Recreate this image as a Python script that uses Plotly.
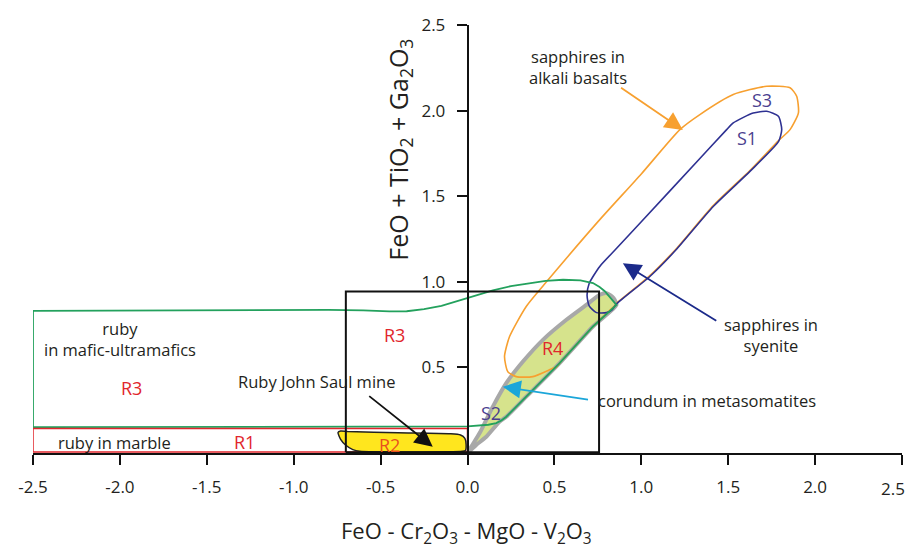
import plotly.graph_objects as go

# ---- axis ticks ----
x_tick_vals = [-2.5, -2.0, -1.5, -1.0, -0.5, 0.0, 0.5, 1.0, 1.5, 2.0, 2.5]
x_tick_text = ["-2.5", "-2.0", "-1.5", "-1.0", "-0.5", "0.0", "0.5", "1.0", "1.5", "2.0", "2.5"]
y_tick_vals = [0.5, 1.0, 1.5, 2.0, 2.5]
y_tick_text = ["0.5", "1.0", "1.5", "2.0", "2.5"]

# ---- field boundaries (data units) ----
r1_x = [-2.5, 0.0, 0.0, -2.5, -2.5]
r1_y = [0.006, 0.006, 0.143, 0.143, 0.006]

r3_x = [-2.5, -1.5, -0.8, -0.6, -0.45, -0.35, -0.25, -0.15, -0.05, 0.05, 0.146, 0.25, 0.338, 0.45, 0.55,
        0.65, 0.722, 0.76, 0.79, 0.82, 0.857, 0.722, 0.53, 0.338, 0.223, 0.195, 0.165, 0.12, 0.05, 0.0,
        -2.5, -2.5]
r3_y = [0.83, 0.834, 0.836, 0.833, 0.827, 0.828, 0.84, 0.86, 0.89, 0.92, 0.95, 0.975, 0.99, 1.005, 1.012,
        1.008, 0.993, 0.97, 0.945, 0.91, 0.865, 0.739, 0.525, 0.329, 0.212, 0.19, 0.175, 0.165, 0.157, 0.155,
        0.151, 0.83]

r4_x = [0.0, 0.03, 0.069, 0.146, 0.223, 0.319, 0.434, 0.569, 0.684, 0.761, 0.8, 0.84, 0.857,
        0.722, 0.53, 0.338, 0.223, 0.184, 0.108, 0.05, 0.0]
r4_y = [0.0, 0.05, 0.115, 0.271, 0.408, 0.534, 0.661, 0.778, 0.865, 0.924, 0.934, 0.905, 0.865,
        0.739, 0.525, 0.329, 0.212, 0.183, 0.095, 0.047, 0.0]

r2_x = [-0.745, -0.73, -0.69, -0.4, -0.1, -0.04, -0.015, -0.008, -0.012, -0.03, -0.62, -0.66, -0.70, -0.73, -0.745]
r2_y = [0.12, 0.128, 0.125, 0.118, 0.112, 0.105, 0.085, 0.05, 0.015, 0.01, 0.01, 0.02, 0.045, 0.08, 0.12]

s3_x = [0.857, 0.722, 0.53, 0.511, 0.492, 0.376, 0.28, 0.232, 0.213, 0.242, 0.338, 0.463, 0.761, 1.0, 1.222,
        1.337, 1.529, 1.722, 1.856, 1.894, 1.904, 1.856, 1.79, 1.625, 1.414, 1.2, 1.049, 0.857]
s3_y = [0.87, 0.739, 0.525, 0.501, 0.495, 0.446, 0.446, 0.475, 0.563, 0.68, 0.856, 1.01, 1.363, 1.63, 1.889,
        1.977, 2.094, 2.142, 2.133, 2.084, 1.987, 1.889, 1.825, 1.65, 1.445, 1.192, 1.036, 0.875]

s1_x = [0.857, 0.83, 0.8, 0.742, 0.7, 0.688, 0.7, 0.761, 0.85, 1.0, 1.337, 1.491, 1.529, 1.644, 1.722,
        1.789, 1.808, 1.79, 1.625, 1.414, 1.2, 1.049, 0.857]
s1_y = [0.87, 0.835, 0.82, 0.82, 0.86, 0.92, 0.99, 1.09, 1.187, 1.351, 1.72, 1.889, 1.928, 1.986, 1.996,
        1.967, 1.889, 1.82, 1.645, 1.44, 1.187, 1.031, 0.87]

box_x = [-0.70, 0.757, 0.757, -0.70, -0.70]
box_y = [0.004, 0.004, 0.943, 0.943, 0.004]

FONT = "Open Sans"
GREEN = "#23a15d"
RED = "#e1262d"
ORANGE = "#f7a030"
NAVY = "#2e3192"
GRAY = "#a8a8a8"
TXT = "#231f20"

fig = go.Figure()


def add_path(x, y, color, width, smooth=True, fill=None, fillcolor=None):
    line = dict(color=color, width=width)
    if smooth:
        line.update(shape="spline", smoothing=0.6)
    fig.add_trace(go.Scatter(x=x, y=y, mode="lines", line=line, fill=fill, fillcolor=fillcolor,
                             hoverinfo="skip", showlegend=False))


add_path(r4_x, r4_y, GRAY, 4, fill="toself", fillcolor="#d6e38c")
add_path(s3_x, s3_y, ORANGE, 1.6)
add_path(s1_x, s1_y, NAVY, 1.6)
add_path(r3_x, r3_y, GREEN, 1.8, smooth=False)
add_path(r1_x, r1_y, RED, 1.5, smooth=False)
add_path(r2_x, r2_y, "#222222", 1.5, fill="toself", fillcolor="#ffe61e")
add_path(box_x, box_y, "#111111", 2, smooth=False)

ann = []


def txt(x, y, s, size=16.5, color=TXT, xanchor="center"):
    ann.append(dict(x=x, y=y, xref="x", yref="y", text=s, showarrow=False, xanchor=xanchor, yanchor="middle",
                    font=dict(family=FONT, size=size, color=color)))


def arrow(tx, ty, sx, sy, color):
    ann.append(dict(x=tx, y=ty, ax=sx, ay=sy, xref="x", yref="y", axref="x", ayref="y", text="",
                    showarrow=True, arrowhead=2, arrowsize=2.0, arrowwidth=1.8, arrowcolor=color))


txt(0.633, 2.256, "sapphires in<br>alkali basalts")
arrow(1.239, 1.887, 0.875, 2.14, ORANGE)
txt(1.697, 2.062, "S3", 18, "#4b3f8f")
txt(1.611, 1.84, "S1", 18, "#4b3f8f")
txt(1.747, 0.687, "sapphires in<br>syenite")
arrow(0.894, 1.108, 1.44, 0.767, "#1b2a8a")
txt(0.742, 0.304, "corundum in metasomatites", xanchor="left")
arrow(0.203, 0.387, 0.702, 0.31, "#1ba6d9")
txt(-0.871, 0.416, "Ruby John Saul mine")
arrow(-0.2, 0.037, -0.574, 0.339, "#111111")
txt(-2.002, 0.666, "ruby<br>in mafic-ultramafics")
txt(-1.935, 0.378, "R3", 18, RED)
txt(-0.42, 0.69, "R3", 18, RED)
txt(-1.283, 0.066, "R1", 18, RED)
txt(-2.031, 0.06, "ruby in marble")
txt(-0.449, 0.047, "R2", 18, "#e8501e")
txt(0.491, 0.612, "R4", 18, RED)
txt(0.136, 0.232, "S2", 18, "#4b3f8f")

# last x tick label, nudged left so it stays inside the picture
ann.append(dict(x=x_tick_vals[-1], y=-0.0818, xref="x", yref="paper", showarrow=False,
                xanchor="right", yanchor="middle", xshift=5, text=x_tick_text[-1],
                font=dict(family=FONT, size=17, color=TXT)))

# axis titles (paper coords relative to the plot area)
ann.append(dict(x=0.4994, y=-0.1846, xref="paper", yref="paper", showarrow=False,
                xanchor="center", yanchor="middle",
                text="FeO - Cr<sub>2</sub>O<sub>3</sub> - MgO - V<sub>2</sub>O<sub>3</sub>",
                font=dict(family=FONT, size=22, color=TXT)))
ann.append(dict(x=-0.39, y=1.77, xref="x", yref="y", showarrow=False, textangle=-90,
                text="FeO + TiO<sub>2</sub> + Ga<sub>2</sub>O<sub>3</sub>",
                font=dict(family=FONT, size=25, color=TXT)))

fig.update_layout(
    width=909, height=548,
    margin=dict(l=33, r=7, t=25, b=95, autoexpand=False),
    paper_bgcolor="white", plot_bgcolor="white",
    showlegend=False,
    annotations=ann,
    xaxis=dict(range=[-2.5, 2.5], showgrid=False, zeroline=False, showline=True, linecolor="#111111",
               linewidth=1.5, ticks="outside", ticklen=10, tickwidth=1.5, tickcolor="#111111",
               tickvals=x_tick_vals, ticktext=x_tick_text[:-1] + [""], ticklabelstandoff=8,
               ticklabeloverflow="allow",
               automargin=False, tickfont=dict(family=FONT, size=17, color=TXT)),
    yaxis=dict(range=[0, 2.5], showgrid=False, zeroline=False, showline=True, linecolor="#111111",
               linewidth=1.5, ticks="outside", ticklen=10, tickwidth=1.5, tickcolor="#111111",
               tickvals=y_tick_vals, ticktext=y_tick_text, anchor="free", position=0.5,
               ticklabelstandoff=8, ticklabeloverflow="allow", automargin=False,
               tickfont=dict(family=FONT, size=17, color=TXT)),
)

fig.write_html("out.html", config={"responsive": False, "displayModeBar": False},
               post_script="document.body.style.margin='0px';document.body.style.overflow='hidden';")
